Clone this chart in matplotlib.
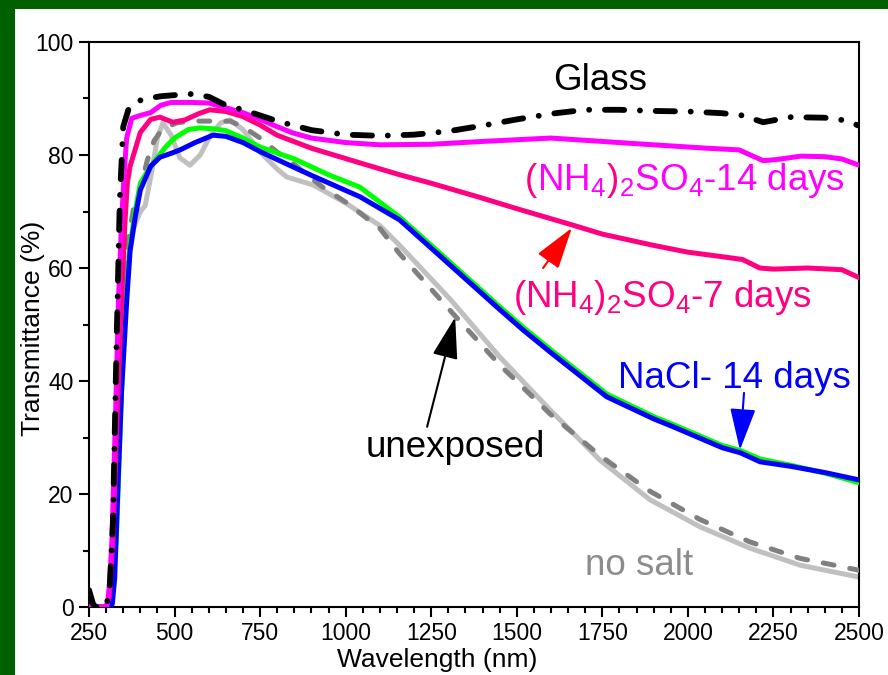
import matplotlib
matplotlib.use('Agg')
import matplotlib.pyplot as plt
import matplotlib.transforms as mtransforms
from matplotlib.patches import Rectangle

plt.rcParams['font.family'] = ['Liberation Sans', 'DejaVu Sans']
plt.rcParams['mathtext.default'] = 'regular'

# transmittance curves (wavelength nm, transmittance %)
glass_wl = [250, 262, 270, 300, 310, 320, 330, 340, 350, 365, 390, 420, 460, 500, 550, 600, 650, 700, 750, 800,
            900, 1000, 1100, 1200, 1300, 1400, 1500, 1600, 1700, 1800, 1900, 2000, 2100, 2160, 2220, 2300, 2400,
            2450, 2500]
glass_t = [3, 0.5, 0, 0, 3, 15, 45, 72, 85, 88, 89.5, 90, 90.4, 90.6, 90.8, 90.3, 88.8, 88, 87, 86,
           84.4, 83.6, 83.4, 83.6, 84.2, 85.2, 86.3, 87.3, 88, 88, 87.8, 87.7, 87.4, 87, 85.8, 86.7, 86.6,
           86.2, 85.2]

am14_wl = [250, 300, 305, 311, 317, 328, 336, 345, 352, 360, 375, 400, 430, 460, 490, 550, 600, 653, 700, 750,
           800, 846, 900, 1000, 1100, 1250, 1400, 1600, 1750, 1900, 2056, 2150, 2190, 2220, 2260, 2330, 2400,
           2450, 2500]
am14_t = [0, 0, 1, 5, 12, 35, 54, 68, 76, 83, 86.5, 87, 87.5, 88.8, 89.3, 89.3, 89.2, 88.3, 87.5, 86.3,
          85, 83.9, 83, 82.2, 81.8, 81.9, 82.4, 83, 82.4, 81.8, 81.2, 80.9, 79.8, 79, 79.2, 79.8, 79.7,
          79.3, 78.2]

am7_wl = [250, 300, 310, 320, 330, 340, 345, 355, 362, 370, 385, 400, 430, 457, 495, 530, 570, 603, 650, 700,
          750, 800, 900, 1042, 1158, 1250, 1392, 1500, 1663, 1750, 1900, 2000, 2100, 2160, 2210, 2250, 2350,
          2450, 2500]
am7_t = [0, 0, 2, 12, 30, 46, 54, 68, 75, 78, 81, 84, 86.3, 86.7, 85.8, 86.2, 87.3, 88, 87.7, 86.8,
         85.3, 83.5, 81.2, 78.6, 76.5, 75, 72.5, 70.5, 67.6, 66, 64, 62.8, 62, 61.5, 60, 59.8, 60,
         59.7, 58.3]

nosalt_wl = [250, 300, 312, 322, 332, 342, 352, 365, 380, 400, 414, 430, 450, 466, 490, 515, 545, 575, 605, 635,
             662, 700, 750, 800, 828, 905, 1000, 1100, 1158, 1305, 1451, 1597, 1743, 1889, 2035, 2182, 2328,
             2500]
nosalt_t = [0, 0, 2, 10, 26, 42, 54, 62, 67, 70, 71, 76, 83, 85.7, 83.5, 79.5, 78.2, 80, 83.5, 85.7,
            86.2, 84.5, 80.5, 77.5, 76.1, 74.7, 71.5, 67.5, 64, 54.5, 44.2, 34.9, 26, 19, 14.2, 10.4, 7.4,
            5.3]

unexp_wl = [250, 300, 312, 322, 332, 342, 352, 365, 380, 400, 420, 440, 457, 480, 507, 550, 600, 662, 700, 750,
            800, 846, 933, 1004, 1100, 1158, 1305, 1451, 1597, 1743, 1889, 2035, 2182, 2328, 2420, 2500]
unexp_t = [0, 0, 2, 10, 28, 45, 56, 65, 70.5, 74, 79, 82.5, 84, 85, 85.7, 86, 86, 86, 85, 83,
           80.5, 78.5, 74.3, 71.5, 67, 62.5, 52.5, 42.8, 34.2, 26.8, 20.5, 15.5, 11.5, 8.6, 7.5, 6.5]

nacl7_wl = [250, 300, 315, 330, 345, 355, 370, 385, 400, 425, 449, 475, 500, 540, 574, 620, 650, 700, 750,
            850, 950, 1042, 1158, 1300, 1451, 1519, 1600, 1763, 1900, 1957, 2100, 2153, 2211, 2300, 2400, 2500]
nacl7_t = [0, 0, 1, 12, 38, 52, 64, 70, 75, 77.5, 79.5, 81.5, 83, 84.5, 84.8, 84.6, 84.3, 83, 81.4,
           79.3, 76.5, 74.3, 69, 61.3, 53.1, 49.5, 45.5, 37.7, 33.7, 32.3, 28.6, 27.7, 26.2, 25.1, 23.7, 22]

nacl14_wl = [250, 300, 318, 325, 335, 345, 360, 370, 385, 400, 430, 457, 490, 516, 560, 612, 650, 700, 750,
             846, 900, 1042, 1158, 1300, 1451, 1519, 1600, 1763, 1900, 1957, 2100, 2153, 2211, 2300, 2400, 2500]
nacl14_t = [0, 0, 0.5, 5, 22, 38, 54, 63, 69, 73.8, 78, 79.6, 80.3, 80.9, 82.2, 83.5, 83.3, 82.2, 80.6,
            77.9, 76.4, 72.6, 68.5, 60.8, 52.6, 49, 45, 37.2, 33.3, 31.9, 28.2, 27.3, 25.7, 24.9, 23.8, 22.5]

x_ticks = [250, 500, 750, 1000, 1250, 1500, 1750, 2000, 2250, 2500]
y_ticks = [0, 20, 40, 60, 80, 100]

MAGENTA = '#FF00FF'
PINK = '#FF0080'

fig = plt.figure(figsize=(8.88, 6.75), dpi=100, facecolor='#006000')
fig.patches.append(Rectangle((15 / 888, 0), 1, 1 - 9 / 675, transform=fig.transFigure,
                             facecolor='white', edgecolor='none', zorder=-10))
ax = fig.add_axes([89 / 888, 68 / 675, 770 / 888, 565 / 675])
ax.set_facecolor('white')

lw = 3.6
ax.plot(nosalt_wl, nosalt_t, color='#C0C0C0', lw=lw, zorder=2)
ax.plot(unexp_wl, unexp_t, color='#808080', lw=lw, ls=(0, (2.2, 3.2)), dash_capstyle='round', zorder=3)
ax.plot(nacl7_wl, nacl7_t, color='#00FF00', lw=lw, zorder=4)
ax.plot(nacl14_wl, nacl14_t, color='#0000FF', lw=lw, zorder=5)
ax.plot(am7_wl, am7_t, color=PINK, lw=lw, zorder=6)
ax.plot(am14_wl, am14_t, color=MAGENTA, lw=lw, zorder=7)
ax.plot(glass_wl, glass_t, color='black', lw=4.2, ls=(0, (3.3, 2.7, 0.01, 2.7)),
        dash_capstyle='round', zorder=8)

ax.set_xlim(250, 2500)
ax.set_ylim(0, 100)
ax.set_xticks(x_ticks)
ax.set_yticks(y_ticks)
ax.set_xticks(range(250, 2501, 50), minor=True)
ax.set_yticks(range(0, 101, 10), minor=True)
ax.tick_params(which='major', direction='out', length=7, width=1.5, labelsize=16.5, pad=4)
ax.tick_params(which='minor', direction='out', length=4, width=1.5)
ax.tick_params(top=False, right=False, which='both')
for sp in ax.spines.values():
    sp.set_linewidth(1.5)

ax.set_xlabel('Wavelength (nm)', fontsize=19, labelpad=-2)
ax.xaxis.set_label_coords(0.452, -0.072)
ax.set_ylabel('Transmittance (%)', fontsize=19)
ax.yaxis.set_label_coords(-0.057, 0.494)

fs = 26.5
ax.text(1743, 91.5, 'Glass', fontsize=fs, color='black', ha='center', va='baseline', zorder=10)
ax.text(1490, 53.1, '(NH$_4$)$_2$SO$_4$-7 days', fontsize=fs, color=PINK, va='baseline', zorder=10)
ax.text(1796, 38.8, 'NaCl- 14 days', fontsize=fs, color='#0000FF', va='baseline', zorder=10)
ax.text(1059, 26.5, 'unexposed', fontsize=fs, color='black', va='baseline', zorder=10)
ax.text(1699, 5.7, 'no salt', fontsize=fs, color='#8C8C8C', va='baseline', zorder=10)

# 14 days label: brackets drawn in the deeper pink
renderer = fig.canvas.get_renderer()
pieces = [('(', PINK), ('NH$_4$', MAGENTA), (')', PINK), ('${}_2$SO$_4$-14 days', MAGENTA)]
tr = ax.transData
for s, c in pieces:
    t = ax.text(1524, 73.8, s, fontsize=fs, color=c, va='baseline', transform=tr, zorder=10)
    ex = t.get_window_extent(renderer)
    tr = mtransforms.offset_copy(t.get_transform(), x=ex.width, units='dots')

arrow = dict(arrowstyle='-|>,head_length=1.3,head_width=0.4', mutation_scale=20, lw=1.5,
             shrinkA=0, shrinkB=0)
ax.annotate('', xy=(1661, 67.1), xytext=(1577, 60),
            arrowprops=dict(arrow, color='#FF0000'), zorder=11)
ax.annotate('', xy=(1320, 51.3), xytext=(1238, 31.9),
            arrowprops=dict(arrow, color='black'), zorder=11)
ax.annotate('', xy=(2152, 27.8), xytext=(2164, 37.9),
            arrowprops=dict(arrow, color='#0000FF'), zorder=11)

fig.savefig('out.png', dpi=100, facecolor=fig.get_facecolor())
